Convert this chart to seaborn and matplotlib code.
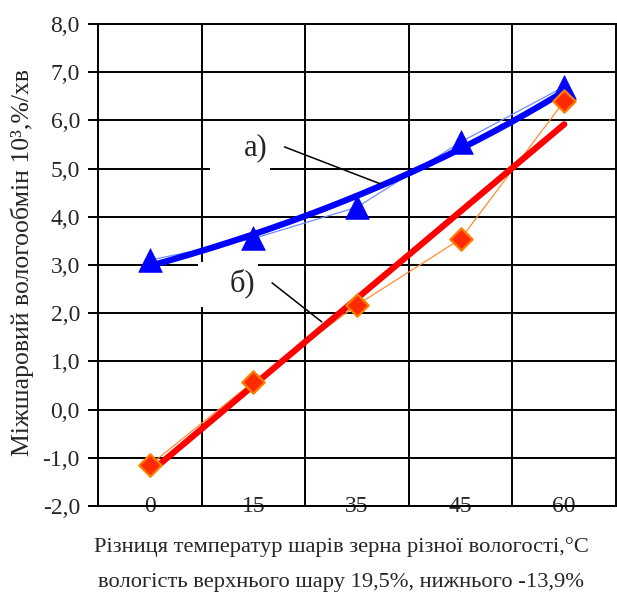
import numpy as np
import pandas as pd
import matplotlib
matplotlib.use("Agg")
import matplotlib.pyplot as plt
from matplotlib.patches import Rectangle
from matplotlib.ticker import MultipleLocator, FixedLocator
import seaborn as sns

# data
categories = ["0", "15", "35", "45", "60"]
series_a = [3.1, 3.55, 4.2, 5.55, 6.7]      # а) triangles
series_b = [-1.15, 0.58, 2.17, 3.54, 6.4]   # б) diamonds

sns.set_style("white")
plt.rcParams['font.family'] = ['Liberation Serif', 'DejaVu Serif']

idx = np.arange(len(categories))
df = pd.DataFrame({"pos": idx, "a": series_a, "b": series_b})

# Excel-like trendlines (x = 1..n): exponential for а), linear for б)
xn = idx + 1
ka, ca = np.polyfit(xn, np.log(df["a"]), 1)
kb, cb = np.polyfit(xn, df["b"], 1)
fine = np.linspace(0, len(categories) - 1, 200)
trend = pd.DataFrame({"pos": fine,
                      "a": np.exp(ca + ka * (fine + 1)),
                      "b": cb + kb * (fine + 1)})

fig = plt.figure(figsize=(6.17, 5.96), dpi=100)
ax = fig.add_axes([98/617, 1 - 506/596, 518/617, 482/596])

# thin connecting lines
sns.lineplot(data=df, x="pos", y="a", ax=ax, color="#6f8cff", lw=0.9, zorder=2)
sns.lineplot(data=df, x="pos", y="b", ax=ax, color="#ff8c30", lw=0.9, zorder=2)
# thick trendlines
sns.lineplot(data=trend, x="pos", y="a", ax=ax, color="#0000ff", lw=4.5, zorder=3)
sns.lineplot(data=trend, x="pos", y="b", ax=ax, color="#ff0000", lw=4.5, zorder=3)
# markers
sns.scatterplot(data=df, x="pos", y="a", ax=ax, marker="^", s=290, color="#0000ff",
                edgecolor="#0000ff", linewidth=0.5, zorder=4)
sns.scatterplot(data=df, x="pos", y="b", ax=ax, marker="D", s=130, color="#ff2a00",
                edgecolor="#ff8000", linewidth=1.6, zorder=4)

ax.set_xlim(-0.5, 4.5)
ax.set_ylim(-2, 8)
ax.set_xlabel("")
ax.set_ylabel("")

ax.xaxis.set_major_locator(FixedLocator(idx))
ax.xaxis.set_minor_locator(FixedLocator(idx[:-1] + 0.5))
ax.set_xticklabels(categories)
ax.yaxis.set_major_locator(MultipleLocator(1))
ax.set_yticklabels([f"{v:.1f}".replace(".", ",") for v in ax.get_yticks()])

ax.tick_params(axis="x", which="both", length=0, pad=0, labelsize=17)
for lab in ax.get_xticklabels():
    lab.set_va("center")
ax.tick_params(axis="y", length=7, width=1.4, color="black", direction="out",
               pad=6, labelsize=17, left=True)

ax.set_axisbelow(True)
ax.grid(False)
ax.yaxis.grid(True, color="black", lw=1.4)
ax.xaxis.grid(True, which="minor", color="black", lw=1.4)
for s in ax.spines.values():
    s.set_visible(True)
    s.set_color("black")
    s.set_linewidth(1.4)

# white label boxes and leaders
ax.add_patch(Rectangle((0.58, 4.93), 0.58, 0.91, facecolor="white", edgecolor="none", zorder=1))
ax.add_patch(Rectangle((0.47, 2.13), 0.57, 0.93, facecolor="white", edgecolor="none", zorder=1))
ax.text(1.02, 5.43, "а)", fontsize=22, ha="center", va="center", zorder=5)
ax.text(0.89, 2.63, "б)", fontsize=22, ha="center", va="center", zorder=5)
ax.plot([1.30, 2.23], [5.45, 4.68], color="black", lw=1.1, zorder=5)
ax.plot([1.18, 1.66], [2.63, 1.82], color="black", lw=1.1, zorder=5)

fig.text(22/617, 1 - 262/596, "Міжшаровий вологообмін 10³,%/хв", rotation=90,
         ha="center", va="center", fontsize=18.5)
fig.text(341/617, 1 - 547/596, "Різниця температур шарів зерна різної вологості,°С",
         ha="center", va="center", fontsize=16.2)
fig.text(341/617, 1 - 583/596, "вологість верхнього шару 19,5%, нижнього -13,9%",
         ha="center", va="center", fontsize=16.2)

fig.savefig("out.png", dpi=100)
